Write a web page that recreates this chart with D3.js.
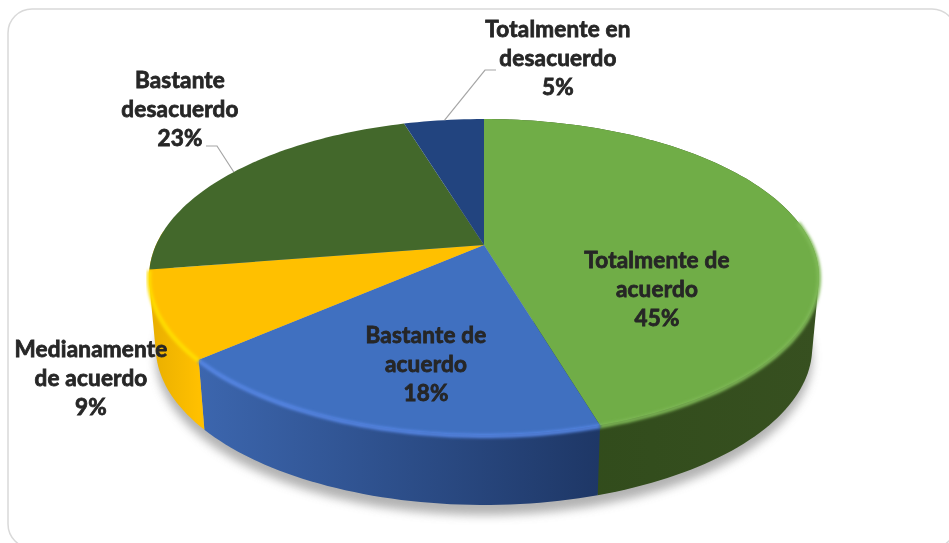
<!DOCTYPE html>
<html>
<head>
<meta charset="utf-8">
<script src="https://cdn.jsdelivr.net/npm/d3@7"></script>
<style>
  html, body { margin: 0; padding: 0; background: #fff; }
  svg { display: block; }
  .label { font-family: Lato, sans-serif; font-weight: 700; font-size: 22.5px; letter-spacing: 0.2px; fill: #262626; stroke: #262626; stroke-width: 0.8px; text-anchor: middle; }
</style>
</head>
<body>
<div id="chart"></div>
<script>
const categories = ['Totalmente de acuerdo', 'Bastante de acuerdo', 'Medianamente de acuerdo', 'Bastante desacuerdo', 'Totalmente en desacuerdo']
const percents = [45.4, 18.2, 8.9, 22.8, 4.7]
const topColors = ['#70ad47', '#4070c0', '#ffc000', '#43682b', '#22447f']
const rimColors = ['#7fb957', '#5687e6', '#ffdf00', '#43682b', '#22447f']
const wallLeft = ['#2f4a1a', '#3c66ae', '#ffc000']
const wallRight = ['#375020', '#1e3766', '#e8ae00']
const labelLines = [
  ['Totalmente de', 'acuerdo'],
  ['Bastante de', 'acuerdo'],
  ['Medianamente', 'de acuerdo'],
  ['Bastante', 'desacuerdo'],
  ['Totalmente en', 'desacuerdo']
]
const labelCenters = [[657, 268], [426, 343], [91, 357], [180, 88], [558, 37]]

const width = 949
const height = 543
const lineStep = 29

// perspective disc: apex of the pie sits above the middle of the ellipse
const apex = { x: 484, y: 245 }
const radiusX = 328
const radiusY = 151.5
const tilt = 0.2026
const depth = 70
const lowerScale = 0.98

function project(angle, r) {
  const u = r * Math.sin(angle)
  const v = -r * Math.cos(angle)
  const w = 1 - tilt * v
  return [apex.x + radiusX * u / w, apex.y + radiusY * v / w]
}

function projectLower(angle, r) {
  const p = project(angle, r)
  return [apex.x + (p[0] - apex.x) * lowerScale, p[1] + depth]
}

function rimPoints(start, end, fn) {
  const steps = Math.max(2, Math.ceil((end - start) * 40))
  return d3.range(steps + 1).map(i => fn(start + (end - start) * i / steps, 1))
}

const line = d3.line()

const svg = d3.select('#chart')
  .append('svg')
  .attr('width', width)
  .attr('height', height)

const defs = svg.append('defs')

const shadowBlur = defs.append('filter')
  .attr('id', 'shadow-blur')
  .attr('x', '-10%').attr('y', '-20%')
  .attr('width', '120%').attr('height', '140%')
shadowBlur.append('feGaussianBlur').attr('stdDeviation', 5)

const rimBlur = defs.append('filter')
  .attr('id', 'rim-blur')
  .attr('x', '-5%').attr('y', '-20%')
  .attr('width', '110%').attr('height', '140%')
rimBlur.append('feGaussianBlur').attr('stdDeviation', 1.6)

const textBlur = defs.append('filter').attr('id', 'text-blur')
textBlur.append('feGaussianBlur').attr('stdDeviation', 0.45)

// card frame, runs off the right and bottom of the picture
svg.append('rect')
  .attr('x', 8)
  .attr('y', 9)
  .attr('width', 948)
  .attr('height', 539)
  .attr('rx', 24)
  .attr('fill', '#fff')
  .attr('stroke', '#d9d9d9')
  .attr('stroke-width', 1.5)

const pie = d3.pie().sort(null).value(d => d)
const slices = pie(percents)

// only the first three slices show a wall, yellow runs on to the left edge
const frontSlices = slices.slice(0, 3).map((s, i) => ({
  index: i,
  startAngle: s.startAngle,
  endAngle: i === 2 ? 1.53 * Math.PI : s.endAngle
}))

// soft shadow under the disc
svg.append('path')
  .attr('d', line(rimPoints(0, 2 * Math.PI, (a, r) => {
    const p = projectLower(a, r)
    return [p[0], p[1] + 10]
  })) + 'Z')
  .attr('fill', '#999')
  .attr('opacity', 0.75)
  .attr('filter', 'url(#shadow-blur)')

// wall gradients, one per slice
frontSlices.forEach(s => {
  const i = s.index
  const xs = rimPoints(s.startAngle, s.endAngle, project).map(p => p[0])
  const g = defs.append('linearGradient')
    .attr('id', 'wall-' + i)
    .attr('gradientUnits', 'userSpaceOnUse')
    .attr('x1', d3.min(xs))
    .attr('x2', d3.max(xs))
    .attr('y1', 0)
    .attr('y2', 0)
  g.append('stop').attr('offset', '0%').attr('stop-color', i === 2 ? wallRight[i] : wallLeft[i])
  g.append('stop').attr('offset', '100%').attr('stop-color', i === 2 ? wallLeft[i] : wallRight[i])
})

// walls first, the top face covers whatever faces away
// hull so the side edge runs straight between the upper and lower rim
svg.append('g')
  .selectAll('path')
  .data(frontSlices)
  .enter()
  .append('path')
  .attr('fill', d => `url(#wall-${d.index})`)
  .attr('d', d => {
    const upper = rimPoints(d.startAngle, d.endAngle, project)
    const lower = rimPoints(d.startAngle, d.endAngle, projectLower)
    return line(d3.polygonHull(upper.concat(lower))) + 'Z'
  })

// top face
svg.append('g')
  .selectAll('path')
  .data(slices)
  .enter()
  .append('path')
  .attr('fill', (d, i) => topColors[i])
  .attr('d', d => line([[apex.x, apex.y]].concat(rimPoints(d.startAngle, d.endAngle, project))) + 'Z')

// bevel glow along the front rim only
svg.append('g')
  .selectAll('path')
  .data(slices.slice(0, 3))
  .enter()
  .append('path')
  .attr('fill', 'none')
  .attr('stroke', (d, i) => rimColors[i])
  .attr('stroke-width', 4)
  .attr('filter', 'url(#rim-blur)')
  .attr('d', d => {
    const start = Math.max(d.startAngle, 0.45 * Math.PI)
    return line(rimPoints(start, d.endAngle, project).map(p => [p[0], p[1] + 1]))
  })

// leader lines for the two labels outside the disc
const leaderAnchors = [
  { slice: 3, mid: [217, 146], end: [206, 146], at: 0.503 },
  { slice: 4, mid: [485, 70], end: [496, 70], at: 0.51 }
]
svg.append('g')
  .selectAll('path')
  .data(leaderAnchors)
  .enter()
  .append('path')
  .attr('fill', 'none')
  .attr('stroke', '#a6a6a6')
  .attr('stroke-width', 1.2)
  .attr('d', d => {
    const s = slices[d.slice]
    const from = project(s.startAngle + (s.endAngle - s.startAngle) * d.at, 1)
    return line([from, d.mid, d.end])
  })

// labels, the last line is the rounded percent
const labels = svg.append('g')
  .selectAll('text')
  .data(labelLines)
  .enter()
  .append('text')
  .attr('class', 'label')
  .attr('filter', 'url(#text-blur)')

labels.selectAll('tspan')
  .data((d, i) => d.concat(Math.round(percents[i]) + '%').map(t => ({ t, x: labelCenters[i][0], y: labelCenters[i][1] })))
  .enter()
  .append('tspan')
  .attr('x', d => d.x)
  .attr('y', (d, i) => d.y + i * lineStep)
  .text(d => d.t)
</script>
</body>
</html>
